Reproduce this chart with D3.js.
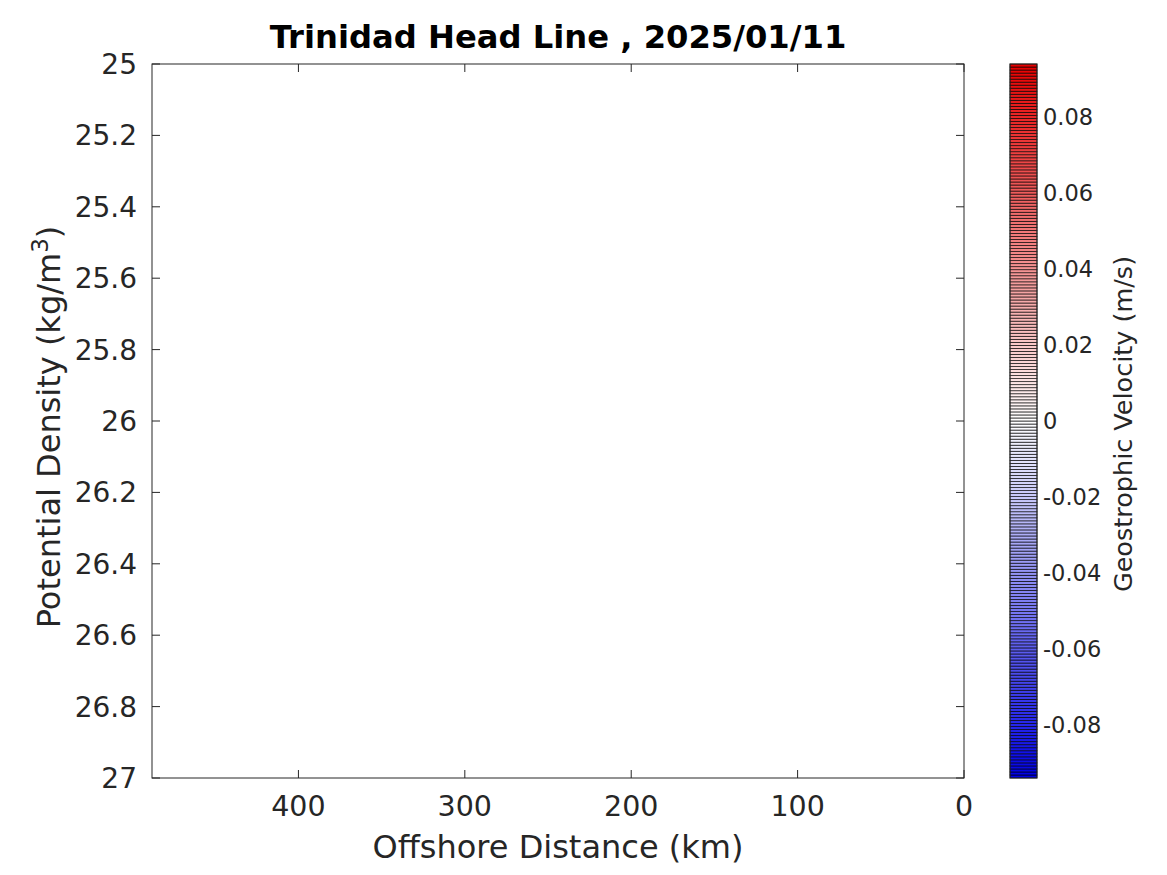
<!DOCTYPE html>
<html><head><meta charset="utf-8">
<script src="https://cdn.jsdelivr.net/npm/d3@7"></script>
<style>body{margin:0;background:#fff;} text{font-family:"DejaVu Sans",sans-serif;}</style>
</head><body>
<svg id="c" width="1167" height="875"></svg>
<script>
const title = "Trinidad Head Line , 2025/01/11";
const xDomain = [488, 0];
const yDomain = [25, 27];
const xTicks = [400, 300, 200, 100, 0];
const yTicks = [25, 25.2, 25.4, 25.6, 25.8, 26, 26.2, 26.4, 26.6, 26.8, 27];
const cRange = [-0.094, 0.094];
const cTicks = [-0.08, -0.06, -0.04, -0.02, 0, 0.02, 0.04, 0.06, 0.08];
const cLevelCount = 236;
const cColors = ["#0000e6", "#ffffff", "#e60000"];

const svg = d3.select("#c");
const M = {l:152, r:964, t:64, b:778};
const ink = "#262626";
const x = d3.scaleLinear().domain(xDomain).range([M.l, M.r]);
const y = d3.scaleLinear().domain(yDomain).range([M.t, M.b]);

svg.append("rect").attr("x",M.l).attr("y",M.t).attr("width",M.r-M.l).attr("height",M.b-M.t)
  .attr("fill","#fff").attr("stroke",ink).attr("stroke-width",1);

const tl = 8;
const gx = svg.append("g");
xTicks.forEach(v=>{
  gx.append("line").attr("x1",x(v)).attr("x2",x(v)).attr("y1",M.b).attr("y2",M.b-tl).attr("stroke",ink);
  gx.append("line").attr("x1",x(v)).attr("x2",x(v)).attr("y1",M.t).attr("y2",M.t+tl).attr("stroke",ink);
  gx.append("text").attr("x",x(v)).attr("y",816).attr("text-anchor","middle")
    .attr("font-size",28.5).attr("fill",ink).text(d3.format("d")(v));
});
const gy = svg.append("g");
yTicks.forEach(v=>{
  gy.append("line").attr("x1",M.l).attr("x2",M.l+tl).attr("y1",y(v)).attr("y2",y(v)).attr("stroke",ink);
  gy.append("line").attr("x1",M.r).attr("x2",M.r-tl).attr("y1",y(v)).attr("y2",y(v)).attr("stroke",ink);
  gy.append("text").attr("x",137).attr("y",y(v)).attr("dy","0.36em").attr("text-anchor","end")
    .attr("font-size",28).attr("fill",ink).text(String(v));
});

svg.append("text").attr("x",(M.l+M.r)/2).attr("y",858).attr("text-anchor","middle")
  .attr("font-size",32).attr("fill",ink).text("Offshore Distance (km)");
const yl = svg.append("text").attr("transform",`translate(60,427) rotate(-90)`)
  .attr("text-anchor","middle").attr("font-size",32).attr("fill",ink);
yl.append("tspan").text("Potential Density (kg/m");
yl.append("tspan").attr("dy",-12).attr("font-size",23).text("3");
yl.append("tspan").attr("dy",12).text(")");
svg.append("text").attr("x",(M.l+M.r)/2+0).attr("y",48).attr("text-anchor","middle")
  .attr("font-size",32.2).attr("font-weight","bold").attr("fill","#000").text(title);

const CB = {l:1010, r:1037};
const cy = d3.scaleLinear().domain(cRange).range([M.b, M.t]);
const cmap = d3.scaleLinear().domain([cRange[0],0,cRange[1]]).range(cColors).interpolate(d3.interpolateRgb);
const step = (cRange[1]-cRange[0])/cLevelCount;
const levels = d3.range(cLevelCount).map(i=>cRange[0]+i*step);
svg.append("g").selectAll("rect").data(levels).join("rect")
  .attr("x",CB.l).attr("width",CB.r-CB.l)
  .attr("y",d=>cy(d+step)).attr("height",d=>cy(d)-cy(d+step))
  .attr("fill",d=>cmap(d+step/2)).attr("stroke","#000").attr("stroke-opacity",0.9).attr("stroke-width",0.7);
svg.append("rect").attr("x",CB.l).attr("y",M.t).attr("width",CB.r-CB.l).attr("height",M.b-M.t)
  .attr("fill","none").attr("stroke",ink).attr("stroke-width",1);
cTicks.forEach(v=>{
  svg.append("text").attr("x",1043).attr("y",cy(v)).attr("dy","0.36em")
    .attr("font-size",22.5).attr("fill",ink).text(v===0?"0":d3.format(".2f")(v).replace("\u2212","-"));
});
svg.append("text").attr("transform",`translate(1132,424) rotate(-90)`)
  .attr("text-anchor","middle").attr("font-size",25.5).attr("fill",ink).text("Geostrophic Velocity (m/s)");
</script>
</body></html>
